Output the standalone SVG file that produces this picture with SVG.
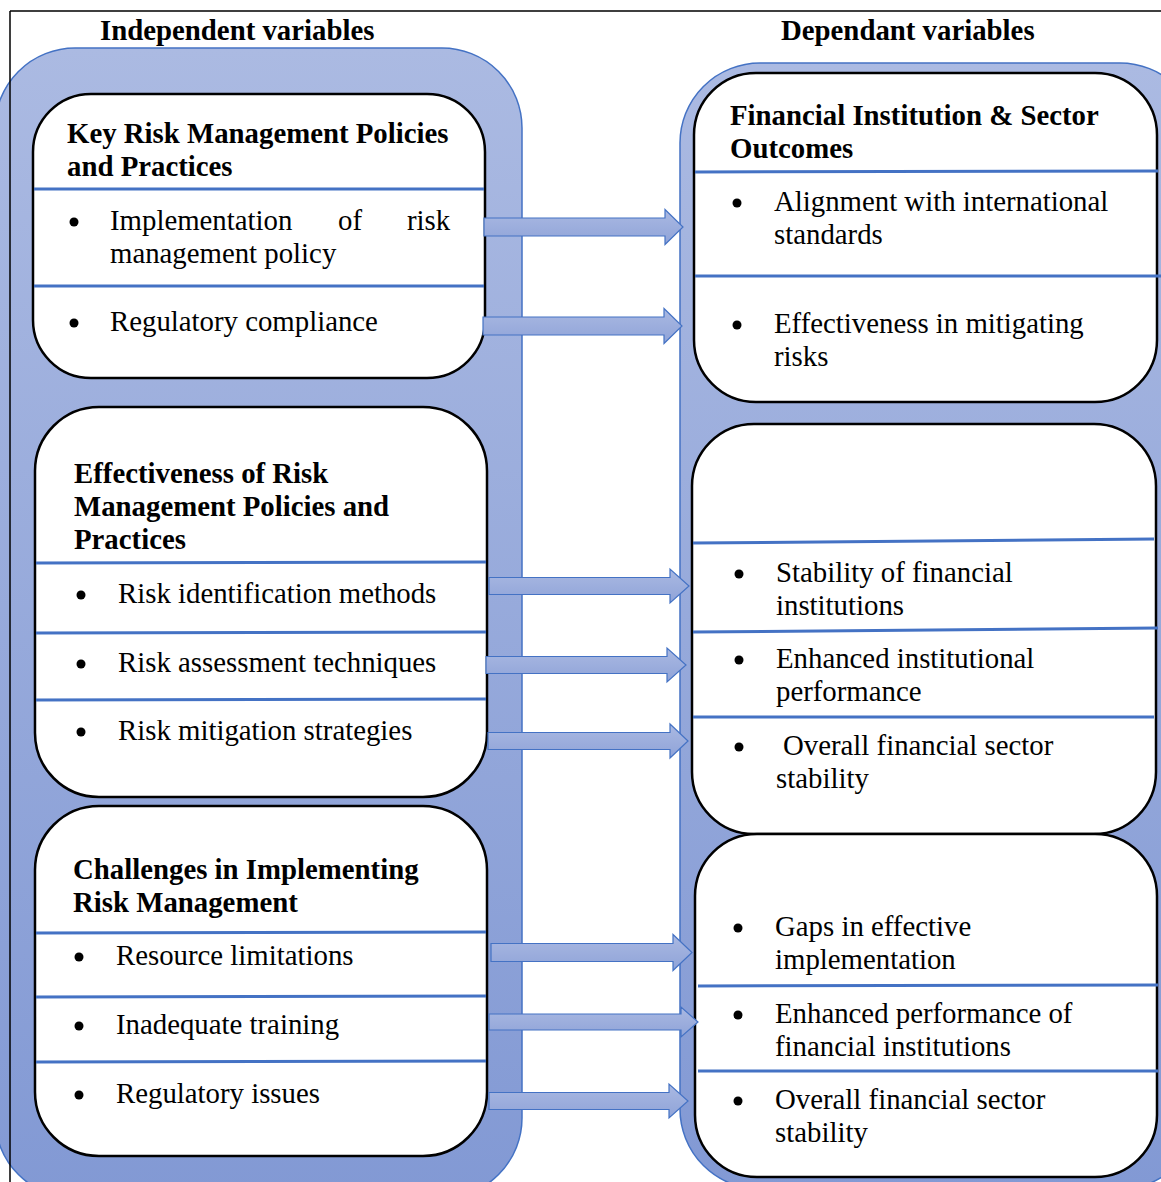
<svg xmlns="http://www.w3.org/2000/svg" width="1161" height="1182" viewBox="0 0 1161 1182">
<defs>
<linearGradient id="panelGrad" x1="0" y1="0" x2="0" y2="1">
<stop offset="0" stop-color="#abbae2"/>
<stop offset="1" stop-color="#8299d4"/>
</linearGradient>
<linearGradient id="arrowGrad" x1="0" y1="0" x2="0" y2="1">
<stop offset="0" stop-color="#aab9e2"/>
<stop offset="1" stop-color="#8fa3d8"/>
</linearGradient>
<style>
text{font-family:"Liberation Serif","Times New Roman",serif;font-size:28.8px;fill:#000}
.b{font-weight:bold}
.box{fill:#fff;stroke:#000;stroke-width:2.5}
.div{stroke:#4472c4;stroke-width:3;fill:none}
.panel{fill:url(#panelGrad);stroke:#4472c4;stroke-width:1.5}
.arrow{fill:url(#arrowGrad);stroke:#4472c4;stroke-width:1.2;stroke-linejoin:miter}
.dot{fill:#000}
</style>
</defs>
<rect x="0" y="0" width="1161" height="1182" fill="#fff"/>

<g id="panels">
<rect class="panel" x="-5" y="48" width="527" height="1150" rx="80" ry="80"/>
<rect class="panel" x="680" y="63" width="520" height="1126" rx="80" ry="80"/>
</g>

<g id="frame">
<path d="M10,11 H1161 M10,11 V1182" stroke="#000" stroke-width="1.5" fill="none"/>
</g>

<g id="titles">
<text class="b" x="100" y="39.5">Independent variables</text>
<text class="b" x="781" y="39.5">Dependant variables</text>
</g>

<g id="node-key-risk">
<rect class="box" x="33" y="94" width="452" height="284" rx="58" ry="58"/>
<line class="div" x1="34" y1="189" x2="484" y2="189"/>
<line class="div" x1="34" y1="286" x2="484" y2="286"/>
<text class="b" x="67" y="143">Key Risk Management Policies</text>
<text class="b" x="67" y="176">and Practices</text>
<circle class="dot" cx="74" cy="222" r="4.5"/>
<text y="230"><tspan x="110">Implementation</tspan><tspan x="338">of</tspan><tspan x="407">risk</tspan></text>
<text x="110" y="263">management policy</text>
<circle class="dot" cx="74" cy="323" r="4.5"/>
<text x="110" y="331">Regulatory compliance</text>
</g>

<g id="node-effectiveness">
<rect class="box" x="35" y="407" width="452" height="390" rx="64" ry="64"/>
<line class="div" x1="36" y1="563" x2="486" y2="562"/>
<line class="div" x1="36" y1="633" x2="486" y2="632"/>
<line class="div" x1="36" y1="700" x2="486" y2="699"/>
<text class="b" x="74" y="483">Effectiveness of Risk</text>
<text class="b" x="74" y="516">Management Policies and</text>
<text class="b" x="74" y="549">Practices</text>
<circle class="dot" cx="81" cy="595" r="4.5"/>
<text x="118" y="603">Risk identification methods</text>
<circle class="dot" cx="81" cy="664" r="4.5"/>
<text x="118" y="672">Risk assessment techniques</text>
<circle class="dot" cx="81" cy="732" r="4.5"/>
<text x="118" y="740">Risk mitigation strategies</text>
</g>

<g id="node-challenges">
<rect class="box" x="35" y="806" width="452" height="350" rx="64" ry="64"/>
<line class="div" x1="36" y1="933" x2="486" y2="932"/>
<line class="div" x1="36" y1="997" x2="486" y2="996"/>
<line class="div" x1="36" y1="1062" x2="486" y2="1061"/>
<text class="b" x="73" y="879">Challenges in Implementing</text>
<text class="b" x="73" y="912">Risk Management</text>
<circle class="dot" cx="79" cy="957" r="4.5"/>
<text x="116" y="965">Resource limitations</text>
<circle class="dot" cx="79" cy="1026" r="4.5"/>
<text x="116" y="1034">Inadequate training</text>
<circle class="dot" cx="79" cy="1095" r="4.5"/>
<text x="116" y="1103">Regulatory issues</text>
</g>

<g id="node-outcomes">
<rect class="box" x="694" y="73" width="463" height="329" rx="62" ry="62"/>
<line class="div" x1="695" y1="172" x2="1158" y2="171"/>
<line class="div" x1="695" y1="276" x2="1161" y2="276"/>
<text class="b" x="730" y="125">Financial Institution &amp; Sector</text>
<text class="b" x="730" y="158">Outcomes</text>
<circle class="dot" cx="737" cy="203" r="4.5"/>
<text x="774" y="211">Alignment with international</text>
<text x="774" y="244">standards</text>
<circle class="dot" cx="737" cy="325" r="4.5"/>
<text x="774" y="333">Effectiveness in mitigating</text>
<text x="774" y="366">risks</text>
</g>

<g id="node-stability">
<rect class="box" x="692" y="424" width="464" height="410" rx="62" ry="62"/>
<line class="div" x1="693" y1="543" x2="1154" y2="539"/>
<line class="div" x1="693" y1="632" x2="1158" y2="628"/>
<line class="div" x1="693" y1="717" x2="1154" y2="717"/>
<circle class="dot" cx="739" cy="574" r="4.5"/>
<text x="776" y="582">Stability of financial</text>
<text x="776" y="615">institutions</text>
<circle class="dot" cx="739" cy="660" r="4.5"/>
<text x="776" y="668">Enhanced institutional</text>
<text x="776" y="701">performance</text>
<circle class="dot" cx="739" cy="747" r="4.5"/>
<text x="783" y="755">Overall financial sector</text>
<text x="776" y="788">stability</text>
</g>

<g id="node-performance">
<rect class="box" x="695" y="834" width="462" height="343" rx="62" ry="62"/>
<line class="div" x1="698" y1="986" x2="1158" y2="985"/>
<line class="div" x1="698" y1="1071" x2="1158" y2="1071"/>
<circle class="dot" cx="738" cy="928" r="4.5"/>
<text x="775" y="936">Gaps in effective</text>
<text x="775" y="969">implementation</text>
<circle class="dot" cx="738" cy="1015" r="4.5"/>
<text x="775" y="1023">Enhanced performance of</text>
<text x="775" y="1056">financial institutions</text>
<circle class="dot" cx="738" cy="1101" r="4.5"/>
<text x="775" y="1109">Overall financial sector</text>
<text x="775" y="1142">stability</text>
</g>

<g id="connectors">
<path class="arrow" d="M484,218 H665 V209.5 L683,227 L665,244.5 V236 H484 Z"/>
<path class="arrow" d="M483,317 H664 V308.5 L682,326 L664,343.5 V335 H483 Z"/>
<path class="arrow" d="M489,577.5 H670 V569 L689,586 L670,603 V594.5 H489 Z"/>
<path class="arrow" d="M486,656.5 H667 V648 L686,665 L667,682 V673.5 H486 Z"/>
<path class="arrow" d="M488,732.5 H670 V724 L688,741 L670,758 V749.5 H488 Z"/>
<path class="arrow" d="M491,943.5 H673 V934.5 L692,952.5 L673,970.5 V961.5 H491 Z"/>
<path class="arrow" d="M489,1014 H681 V1007 L698,1022 L681,1037 V1030 H489 Z"/>
<path class="arrow" d="M489,1092.5 H669 V1084 L688,1101 L669,1118 V1109.5 H489 Z"/>
</g>
</svg>
